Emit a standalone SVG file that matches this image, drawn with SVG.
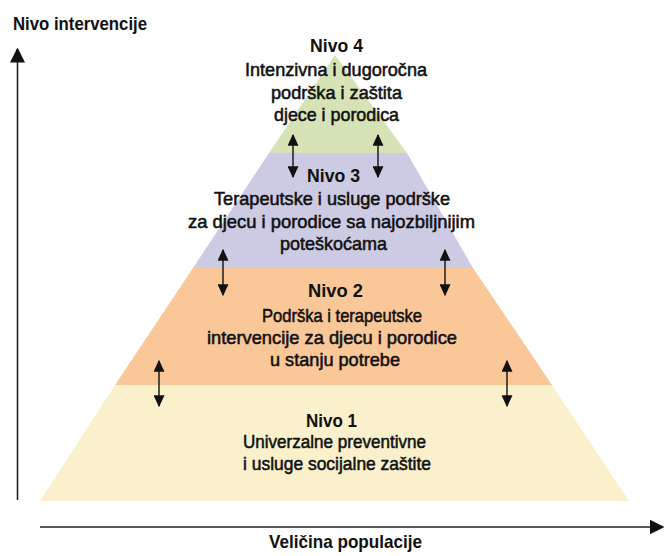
<svg xmlns="http://www.w3.org/2000/svg" width="664" height="556" viewBox="0 0 664 556">
<style>
  .lvl { stroke: none; }
  .t { font-family: "Liberation Sans", Arial, sans-serif; font-size: 18.5px; fill: #111; text-anchor: middle; }
  .b { font-weight: bold; }
  .r { stroke: #111; stroke-width: 0.55px; }
  .ax { stroke: #222; stroke-width: 1.6; fill: none; }
  .dbl { stroke: #111; stroke-width: 1.4; fill: none; }
</style>
<defs>
  <marker id="axHead" viewBox="0 0 10 10" refX="9" refY="5" markerUnits="userSpaceOnUse" markerWidth="15" markerHeight="15" orient="auto">
    <path d="M0,0 L10,5 L0,10 Z" fill="#111"/>
  </marker>
  <marker id="dblHead" viewBox="0 0 10 10" refX="9" refY="5" markerUnits="userSpaceOnUse" markerWidth="12" markerHeight="11" orient="auto-start-reverse" preserveAspectRatio="none">
    <path d="M0,0 L10,5 L0,10 Z" fill="#111"/>
  </marker>
</defs>
<rect x="0" y="0" width="664" height="556" fill="#ffffff"/>

<g id="level4">
  <polygon class="lvl" points="335,55 407,153 269,153" fill="#d6e3b6"/>
  <text class="t b" x="336.5" y="52" textLength="53" lengthAdjust="spacingAndGlyphs">Nivo 4</text>
  <text class="t r" x="336" y="76" textLength="182" lengthAdjust="spacingAndGlyphs">Intenzivna i dugoročna</text>
  <text class="t r" x="336.5" y="99" textLength="131" lengthAdjust="spacingAndGlyphs">podrška i zaštita</text>
  <text class="t r" x="336.5" y="121" textLength="125" lengthAdjust="spacingAndGlyphs">djece i porodica</text>
</g>

<g id="level3">
  <polygon class="lvl" points="269,153 407,153 473,268 193,268" fill="#cdcbe3"/>
  <text class="t b" x="333.5" y="182" textLength="53" lengthAdjust="spacingAndGlyphs">Nivo 3</text>
  <text class="t r" x="332" y="205" textLength="236" lengthAdjust="spacingAndGlyphs">Terapeutske i usluge podrške</text>
  <text class="t r" x="331.5" y="228" textLength="287" lengthAdjust="spacingAndGlyphs">za djecu i porodice sa najozbiljnijim</text>
  <text class="t r" x="333.5" y="250" textLength="107" lengthAdjust="spacingAndGlyphs">poteškoćama</text>
</g>

<g id="level2">
  <polygon class="lvl" points="193,268 473,268 552,385 115,385" fill="#f9c798"/>
  <text class="t b" x="335.5" y="297" textLength="55" lengthAdjust="spacingAndGlyphs">Nivo 2</text>
  <text class="t r" x="342" y="322" textLength="160" lengthAdjust="spacingAndGlyphs">Podrška i terapeutske</text>
  <text class="t r" x="332" y="344" textLength="250" lengthAdjust="spacingAndGlyphs">intervencije za djecu i porodice</text>
  <text class="t r" x="335" y="366" textLength="130" lengthAdjust="spacingAndGlyphs">u stanju potrebe</text>
</g>

<g id="level1">
  <polygon class="lvl" points="115,385 552,385 629,501 40,501" fill="#faf1cc"/>
  <text class="t b" x="331.5" y="427" textLength="51" lengthAdjust="spacingAndGlyphs">Nivo 1</text>
  <text class="t r" x="334.5" y="448" textLength="183" lengthAdjust="spacingAndGlyphs">Univerzalne preventivne</text>
  <text class="t r" x="337" y="470" textLength="188" lengthAdjust="spacingAndGlyphs">i usluge socijalne zaštite</text>
</g>

<g id="axis-y">
  <text class="t b" x="13" y="30" style="text-anchor:start" textLength="134" lengthAdjust="spacingAndGlyphs">Nivo intervencije</text>
</g>
<g id="axis-x">
  <text class="t b" x="345.5" y="548" textLength="153" lengthAdjust="spacingAndGlyphs">Veličina populacije</text>
</g>

<g id="connectors">
  <line class="ax" x1="17.5" y1="500" x2="17.5" y2="49" marker-end="url(#axHead)"/>
  <line class="ax" x1="40" y1="527" x2="663" y2="527" marker-end="url(#axHead)"/>
  <line class="dbl" x1="293" y1="135" x2="293" y2="177" marker-start="url(#dblHead)" marker-end="url(#dblHead)"/>
  <line class="dbl" x1="378" y1="135" x2="378" y2="177" marker-start="url(#dblHead)" marker-end="url(#dblHead)"/>
  <line class="dbl" x1="223" y1="250" x2="223" y2="295" marker-start="url(#dblHead)" marker-end="url(#dblHead)"/>
  <line class="dbl" x1="445" y1="250" x2="445" y2="295" marker-start="url(#dblHead)" marker-end="url(#dblHead)"/>
  <line class="dbl" x1="159" y1="361" x2="159" y2="406" marker-start="url(#dblHead)" marker-end="url(#dblHead)"/>
  <line class="dbl" x1="507" y1="361" x2="507" y2="406" marker-start="url(#dblHead)" marker-end="url(#dblHead)"/>
</g>
</svg>
